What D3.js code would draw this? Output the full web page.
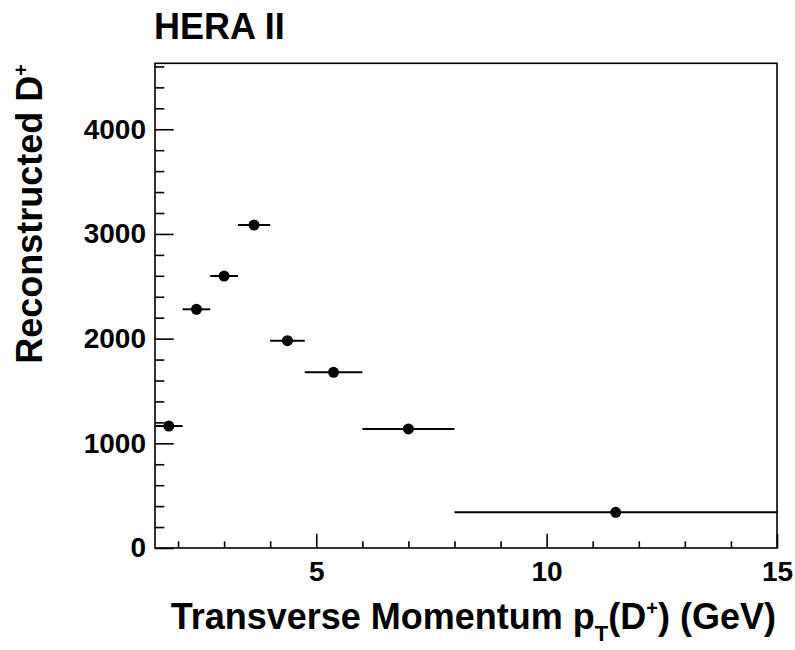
<!DOCTYPE html>
<html>
<head>
<meta charset="utf-8">
<script src="https://cdn.jsdelivr.net/npm/d3@7"></script>
<style>
  html, body { margin: 0; padding: 0; background: #fff; }
  svg { display: block; }
  text { font-family: "Liberation Sans", Arial, Helvetica, sans-serif; font-weight: bold; fill: #000; }
</style>
</head>
<body>
<svg id="chart" width="795" height="650"></svg>
<script>
// D+ candidates per transverse-momentum bin
const binLow  = [1.5, 2.1, 2.7, 3.3, 4.0, 4.75, 6.0, 8.0];
const binHigh = [2.1, 2.7, 3.3, 4.0, 4.75, 6.0, 8.0, 15.0];
const counts  = [1165, 2280, 2598, 3085, 1980, 1678, 1137, 341];

const xMajorTicks = [5, 10, 15];
const xMinorTicks = [2, 3, 4, 6, 7, 8, 9, 11, 12, 13, 14];
const yMajorTicks = [0, 1000, 2000, 3000, 4000];
const yMinorTicks = [200, 400, 600, 800, 1200, 1400, 1600, 1800, 2200, 2400, 2600, 2800,
                     3200, 3400, 3600, 3800, 4200, 4400, 4600];

const frame = { left: 155, right: 777, top: 63.3, bottom: 548 };
const FONT = '"Liberation Sans", Arial, Helvetica, sans-serif';

const svg = d3.select("#chart");

const x = d3.scaleLinear().domain([1.5, 15]).range([frame.left, frame.right]);
const y = d3.scaleLinear().domain([0, 4630]).range([frame.bottom, frame.top]);

// frame
svg.append("rect")
  .attr("x", frame.left).attr("y", frame.top)
  .attr("width", frame.right - frame.left).attr("height", frame.bottom - frame.top)
  .attr("fill", "none").attr("stroke", "#000").attr("stroke-width", 1.6);

// y axis: major ticks with labels, minor ticks inward
const gy = svg.append("g").attr("transform", `translate(${frame.left},0)`)
  .call(d3.axisLeft(y).tickValues(yMajorTicks).tickSize(-18.7).tickPadding(9)
          .tickFormat(d3.format("d")));
gy.select(".domain").remove();
gy.selectAll("line").attr("stroke", "#000").attr("stroke-width", 1.6);
gy.selectAll("text").attr("font-size", 28).attr("fill", "#000")
  .style("font-family", FONT).style("font-weight", "bold");

const gym = svg.append("g").attr("transform", `translate(${frame.left},0)`)
  .call(d3.axisLeft(y).tickValues(yMinorTicks).tickSize(-9.3).tickFormat(""));
gym.select(".domain").remove();
gym.selectAll("line").attr("stroke", "#000").attr("stroke-width", 1.6);

// x axis
const gx = svg.append("g").attr("transform", `translate(0,${frame.bottom})`)
  .call(d3.axisBottom(x).tickValues(xMajorTicks).tickSize(-14.3).tickPadding(12.7)
          .tickFormat(d3.format("d")));
gx.select(".domain").remove();
gx.selectAll("line").attr("stroke", "#000").attr("stroke-width", 1.6);
gx.selectAll("text").attr("font-size", 28).attr("fill", "#000")
  .style("font-family", FONT).style("font-weight", "bold");

const gxm = svg.append("g").attr("transform", `translate(0,${frame.bottom})`)
  .call(d3.axisBottom(x).tickValues(xMinorTicks).tickSize(-6.7).tickFormat(""));
gxm.select(".domain").remove();
gxm.selectAll("line").attr("stroke", "#000").attr("stroke-width", 1.6);

// data points with horizontal bin-width bars
const pts = binLow.map((lo, i) => ({ lo, hi: binHigh[i], n: counts[i], c: (lo + binHigh[i]) / 2 }));

svg.append("g").selectAll("line").data(pts).join("line")
  .attr("x1", d => x(d.lo)).attr("x2", d => x(d.hi))
  .attr("y1", d => y(d.n)).attr("y2", d => y(d.n))
  .attr("stroke", "#000").attr("stroke-width", 2);

svg.append("g").selectAll("circle").data(pts).join("circle")
  .attr("cx", d => x(d.c)).attr("cy", d => y(d.n)).attr("r", 5.5)
  .attr("fill", "#000");

// title
svg.append("text").attr("x", 154).attr("y", 39).attr("font-size", 36).text("HERA II");

// x axis title
const xt = svg.append("text").attr("x", 776).attr("y", 629)
  .attr("font-size", 36).attr("text-anchor", "end");
xt.append("tspan").text("Transverse Momentum p");
xt.append("tspan").attr("font-size", 22).attr("dy", 12).text("T");
xt.append("tspan").attr("dy", -12).text("(D");
xt.append("tspan").attr("font-size", 20).attr("dy", -14).text("+");
xt.append("tspan").attr("dy", 14).text(") (GeV)");

// y axis title
const yt = svg.append("text").attr("transform", "translate(42,64) rotate(-90)")
  .attr("font-size", 36).attr("text-anchor", "end");
yt.append("tspan").text("Reconstructed D");
yt.append("tspan").attr("font-size", 20).attr("dy", -14).text("+");
</script>
</body>
</html>
